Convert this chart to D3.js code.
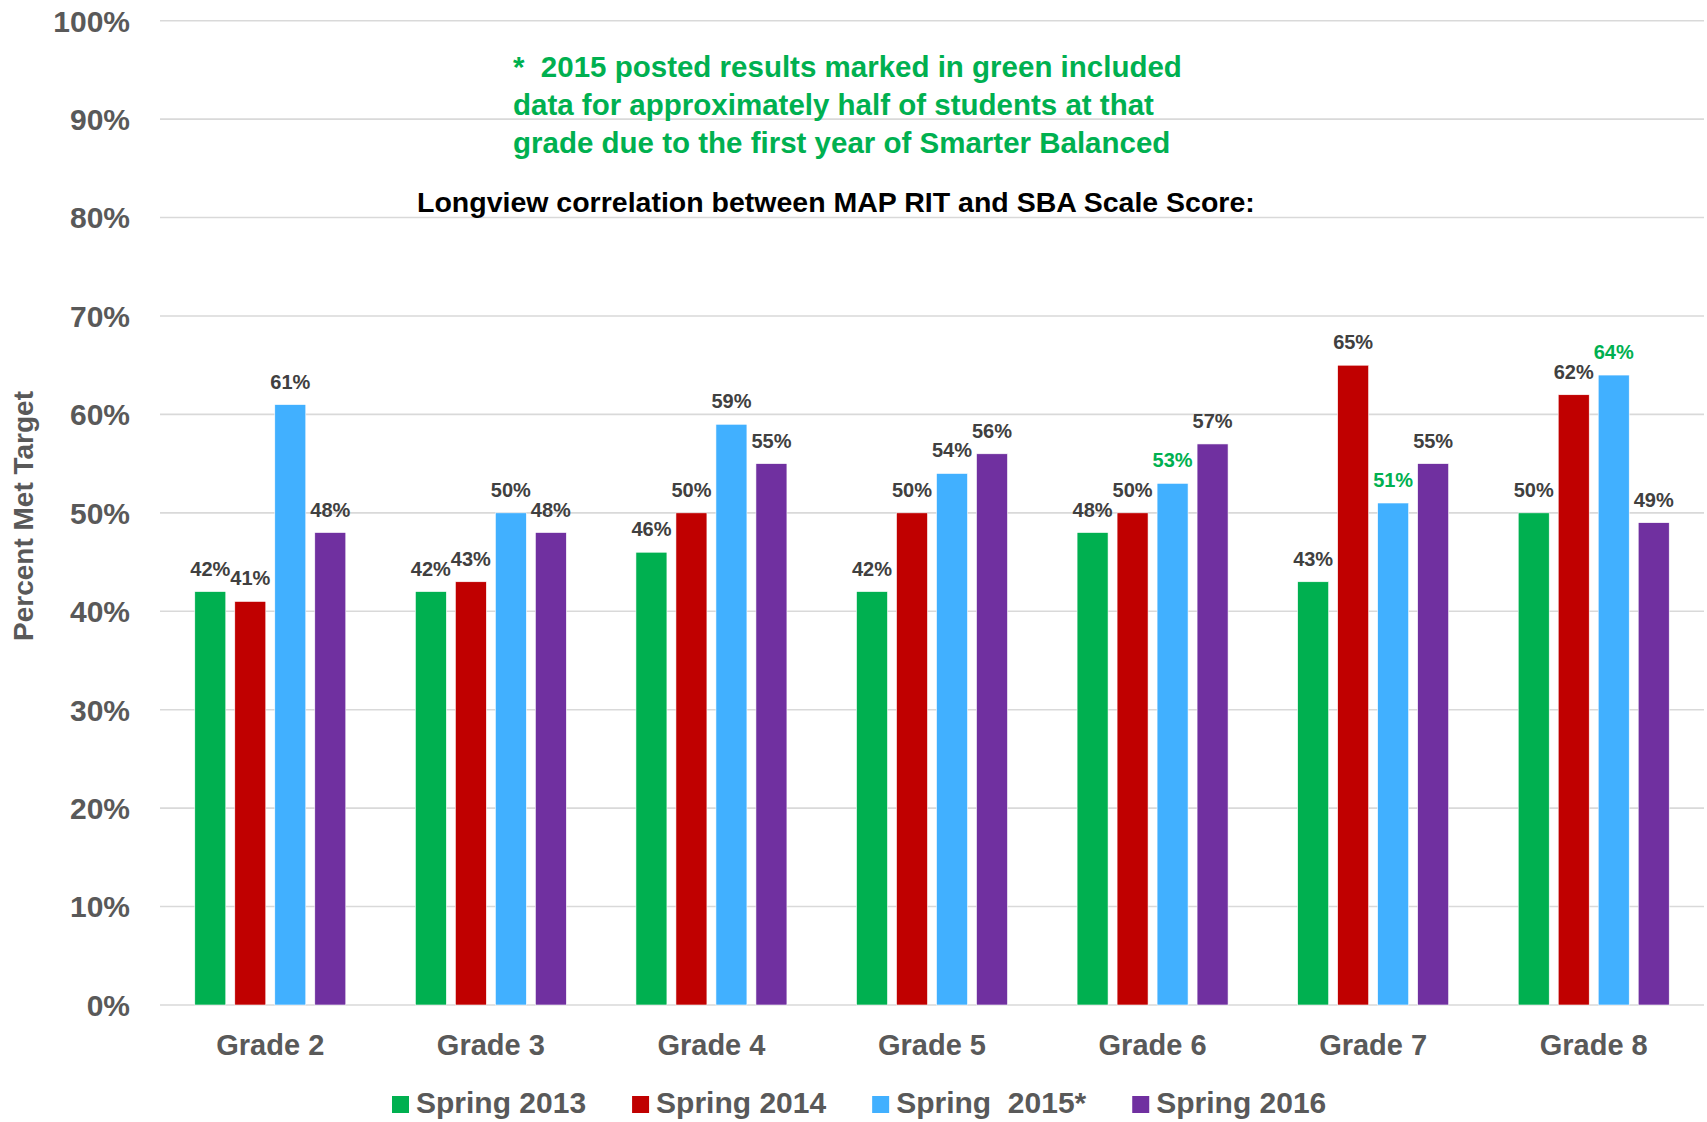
<!DOCTYPE html>
<html>
<head>
<meta charset="utf-8">
<script src="https://cdn.jsdelivr.net/npm/d3@7"></script>
<style>
  body { margin: 0; background: #fff; }
  text { font-family: "Liberation Sans", Arial, sans-serif; }
</style>
</head>
<body>
<div id="chart"></div>
<script>
const grades = ['Grade 2', 'Grade 3', 'Grade 4', 'Grade 5', 'Grade 6', 'Grade 7', 'Grade 8'];
const seriesNames = ['Spring 2013', 'Spring 2014', 'Spring  2015*', 'Spring 2016'];
const spring2013 = [42, 42, 46, 42, 48, 43, 50];
const spring2014 = [41, 43, 50, 50, 50, 65, 62];
const spring2015 = [61, 50, 59, 54, 53, 51, 64];
const spring2016 = [48, 48, 55, 56, 57, 55, 49];
// 2015 labels shown in green (partial data)
const greenLabels2015 = ['Grade 6', 'Grade 7', 'Grade 8'];
const yTicks = [0, 10, 20, 30, 40, 50, 60, 70, 80, 90, 100];
const noteLines = ['*  2015 posted results marked in green included',
  'data for approximately half of students at that',
  'grade due to the first year of Smarter Balanced'];
const titleText = 'Longview correlation between MAP RIT and SBA Scale Score:';

const colors = ['#00B050', '#C00000', '#41B0FF', '#7030A0'];
const allSeries = [spring2013, spring2014, spring2015, spring2016];

const W = 1707, H = 1122;
const svg = d3.select('#chart').append('svg')
  .attr('width', W).attr('height', H);

svg.append('rect').attr('width', W).attr('height', H).attr('fill', '#fff');

const x0 = d3.scaleBand().domain(grades).range([160, 1704]);
const x1 = d3.scaleBand().domain(d3.range(4)).range([-75.5, 75.5]).paddingInner(0.225);
const y = d3.scaleLinear().domain([0, 100]).range([1005, 20.7]);

// gridlines
svg.append('g').selectAll('line')
  .data(yTicks)
  .enter().append('line')
  .attr('x1', 160).attr('x2', 1704)
  .attr('y1', d => y(d)).attr('y2', d => y(d))
  .attr('stroke', '#D9D9D9').attr('stroke-width', 1.6);

// y tick labels
svg.append('g').selectAll('text')
  .data(yTicks)
  .enter().append('text')
  .attr('x', 130).attr('y', d => y(d))
  .attr('dy', '0.36em')
  .attr('text-anchor', 'end')
  .attr('font-size', 30).attr('font-weight', 'bold')
  .attr('fill', '#595959')
  .text(d => d + '%');

// y axis title
svg.append('text')
  .attr('transform', 'translate(33,516) rotate(-90)')
  .attr('text-anchor', 'middle')
  .attr('font-size', 28).attr('font-weight', 'bold')
  .attr('fill', '#595959')
  .text('Percent Met Target');

// bars
const rows = grades.map((g, i) => ({ grade: g, vals: allSeries.map(s => s[i]) }));

const groups = svg.append('g').selectAll('g')
  .data(rows)
  .enter().append('g')
  .attr('transform', d => 'translate(' + (x0(d.grade) + x0.bandwidth() / 2) + ',0)');

groups.selectAll('rect')
  .data(d => d.vals.map((v, k) => ({ v, k })))
  .enter().append('rect')
  .attr('x', d => x1(d.k))
  .attr('y', d => y(d.v))
  .attr('width', x1.bandwidth())
  .attr('height', d => y(0) - y(d.v))
  .attr('fill', d => colors[d.k])
  .attr('stroke', '#fff').attr('stroke-width', 0.6);

groups.selectAll('text')
  .data(d => d.vals.map((v, k) => ({ v, k, grade: d.grade })))
  .enter().append('text')
  .attr('x', d => x1(d.k) + x1.bandwidth() / 2)
  .attr('y', d => y(d.v) - 16)
  .attr('text-anchor', 'middle')
  .attr('font-size', 20).attr('font-weight', 'bold')
  .attr('fill', d => (d.k === 2 && greenLabels2015.includes(d.grade)) ? '#00B050' : '#404040')
  .text(d => d.v + '%');

// category labels
svg.append('g').selectAll('text')
  .data(grades)
  .enter().append('text')
  .attr('x', d => x0(d) + x0.bandwidth() / 2)
  .attr('y', 1055)
  .attr('text-anchor', 'middle')
  .attr('font-size', 29).attr('font-weight', 'bold')
  .attr('fill', '#595959')
  .text(d => d);

// note in green
svg.append('g').selectAll('text')
  .data(noteLines)
  .enter().append('text')
  .attr('x', 513).attr('y', (d, i) => 77 + i * 38)
  .attr('font-size', 29.5).attr('font-weight', 'bold')
  .attr('fill', '#00B050')
  .style('white-space', 'pre')
  .text(d => d);

svg.append('text')
  .attr('x', 417).attr('y', 212)
  .attr('font-size', 28.5).attr('font-weight', 'bold')
  .attr('fill', '#000')
  .text(titleText);

// legend
const legend = svg.append('g');
let lx = 392;
seriesNames.forEach((name, k) => {
  legend.append('rect')
    .attr('x', lx).attr('y', 1096)
    .attr('width', 17).attr('height', 17)
    .attr('fill', colors[k]);
  const t = legend.append('text')
    .attr('x', lx + 24).attr('y', 1113)
    .attr('font-size', 30).attr('font-weight', 'bold')
    .attr('fill', '#595959')
    .style('white-space', 'pre')
    .text(name);
  lx = lx + 24 + t.node().getComputedTextLength() + 46;
});
</script>
</body>
</html>
